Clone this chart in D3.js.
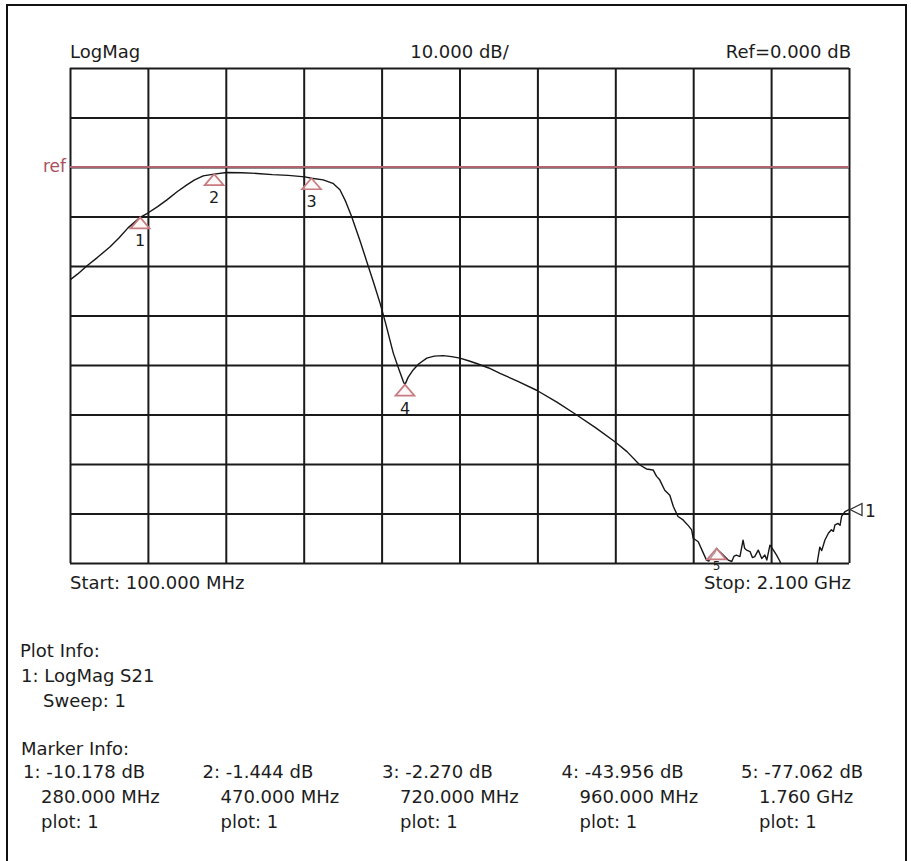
<!DOCTYPE html>
<html>
<head>
<meta charset="utf-8">
<script src="https://cdn.jsdelivr.net/npm/d3@7"></script>
<style>
  body { margin: 0; background: #fff; }
  svg { display: block; }
  text { font-family: "DejaVu Sans", Verdana, sans-serif; fill: #1c1c1c; }
</style>
</head>
<body>
<svg id="chart" width="911" height="861"></svg>
<script>
// sweep, MHz / dB
const freqMHz = [100, 120, 143, 170, 203, 225, 249, 280, 300, 325, 348, 375, 400, 420, 442, 470, 502, 540, 580, 620,
  660, 703, 720, 750, 775, 793, 808, 823, 845, 866, 880, 896, 910, 930, 945, 956, 960, 968, 981, 995,
  1016, 1035, 1058, 1080, 1101, 1125, 1144, 1175, 1204, 1250, 1298, 1350, 1401, 1450, 1499, 1530, 1563, 1580, 1597, 1606,
  1614, 1627, 1640, 1649, 1661, 1674, 1688, 1696, 1700, 1713, 1726, 1734, 1740, 1747, 1755, 1760, 1766, 1777, 1790, 1799,
  1805, 1811, 1820, 1828, 1832, 1837, 1846, 1852, 1858, 1867, 1876, 1884, 1889, 1897, 1906, 1914, 1923, 1930, 1960, 2000,
  2015, 2025, 2030, 2038, 2047, 2055, 2060, 2064, 2072, 2077, 2081, 2090, 2100];
const s21dB = [-22.8, -21.6, -20.0, -18.3, -16.1, -14.4, -12.3, -10.18, -9.3, -8.0, -6.7, -5.0, -3.6, -2.6, -1.8, -1.44, -1.1, -1.15, -1.3, -1.55,
  -1.7, -2.0, -2.27, -2.6, -3.3, -4.6, -7.0, -10.0, -15.0, -20.1, -23.5, -27.5, -31.5, -37.6, -41.0, -43.4, -43.96, -42.5, -41.0, -39.8,
  -38.6, -38.2, -38.1, -38.3, -38.6, -39.2, -39.7, -40.6, -41.7, -43.3, -45.1, -47.5, -50.1, -52.7, -55.5, -57.5, -60.2, -61.0, -61.2, -62.5,
  -63.2, -65.3, -66.3, -68.6, -70.6, -71.3, -72.5, -73.3, -75.0, -75.7, -78.0, -79.4, -79.6, -78.7, -78.0, -77.06, -77.6, -78.4, -79.4, -79.7,
  -78.6, -78.4, -78.7, -75.4, -77.0, -77.4, -77.7, -78.9, -78.7, -77.4, -79.1, -78.4, -79.4, -76.4, -77.4, -78.4, -79.7, -82.0, -84.0, -83.0,
  -81.5, -76.8, -77.5, -75.4, -74.0, -73.3, -73.6, -72.3, -72.0, -72.4, -70.6, -69.6, -69.2];

const markerIds = [1, 2, 3, 4, 5];
const markerMHz = [280, 470, 720, 960, 1760];
const markerdB = [-10.178, -1.444, -2.270, -43.956, -77.062];
const markerFreqLabels = ['280.000 MHz', '470.000 MHz', '720.000 MHz', '960.000 MHz', '1.760 GHz'];

const xTicks = d3.range(100, 2101, 200);
const yTicks = d3.range(20, -81, -10);
const refdB = 0;

const svg = d3.select('#chart');
const plotLeft = 70, plotTop = 68, plotW = 779, plotH = 495;

const x = d3.scaleLinear().domain([100, 2100]).range([plotLeft, plotLeft + plotW]);
const y = d3.scaleLinear().domain([20, -80]).range([plotTop, plotTop + plotH]);

// outer frame (runs off the bottom of the picture)
svg.append('path')
  .attr('d', 'M7,870 L7,5 L906,5 L906,870')
  .attr('fill', 'none').attr('stroke', '#111').attr('stroke-width', 2);

// grid
const gridX = svg.append('g')
  .attr('transform', `translate(0,${plotTop + plotH})`)
  .call(d3.axisBottom(x).tickValues(xTicks).tickSize(-plotH).tickFormat(''));
const gridY = svg.append('g')
  .attr('transform', `translate(${plotLeft},0)`)
  .call(d3.axisLeft(y).tickValues(yTicks).tickSize(-plotW).tickFormat(''));
[gridX, gridY].forEach(g => {
  g.select('.domain').remove();
  g.selectAll('line').attr('stroke', '#1a1a1a').attr('stroke-width', 2);
});

// ref line
svg.append('line')
  .attr('x1', plotLeft).attr('x2', plotLeft + plotW)
  .attr('y1', y(refdB)).attr('y2', y(refdB))
  .attr('stroke', '#b06470').attr('stroke-width', 1.8);
svg.append('text')
  .attr('x', 66).attr('y', y(refdB) + 5)
  .attr('text-anchor', 'end')
  .style('fill', '#a8505c')
  .style('font-size', '17px')
  .text('ref');

// trace
svg.append('clipPath').attr('id', 'plotClip')
  .append('rect').attr('x', plotLeft).attr('y', plotTop - 1).attr('width', plotW).attr('height', plotH + 1);

const line = d3.line().x(d => x(d[0])).y(d => y(d[1]));
svg.append('path')
  .datum(d3.zip(freqMHz, s21dB))
  .attr('clip-path', 'url(#plotClip)')
  .attr('d', line)
  .attr('fill', 'none')
  .attr('stroke', '#161616')
  .attr('stroke-width', 1.4)
  .attr('stroke-linejoin', 'round');

// markers
const markers = svg.append('g').selectAll('g')
  .data(markerIds.map((id, i) => ({ id, f: markerMHz[i], v: markerdB[i] })))
  .join('g')
  .attr('transform', d => `translate(${x(d.f)},${y(d.v)})`);
markers.append('path')
  .attr('d', 'M0,0 L9.5,11 L-9.5,11 Z')
  .attr('fill', '#fff4f4')
  .attr('fill-opacity', 0.6)
  .attr('stroke', '#c77a80')
  .attr('stroke-width', 1.7);
markers.append('text')
  .attr('y', d => d.id === 5 ? 22 : 29)
  .attr('text-anchor', 'middle')
  .style('font-size', d => d.id === 5 ? '12px' : '16px')
  .text(d => d.id);

// trace 1 end pointer
const last = s21dB[s21dB.length - 1];
const endG = svg.append('g').attr('transform', `translate(${plotLeft + plotW + 1},${y(last)})`);
endG.append('path')
  .attr('d', 'M0,0 L12,-6 L12,6 Z')
  .attr('fill', '#fff').attr('stroke', '#333').attr('stroke-width', 1.3);
endG.append('text').attr('x', 15).attr('y', 7).style('font-size', '17px').text('1');

// header / footer labels
const lab = (tx, ty, s, anchor) => svg.append('text')
  .attr('x', tx).attr('y', ty)
  .attr('text-anchor', anchor || 'start')
  .style('font-size', '18px')
  .text(s);

lab(plotLeft, 58, 'LogMag');
lab(plotLeft + plotW / 2, 58, '10.000 dB/', 'middle');
lab(plotLeft + plotW + 2, 58, 'Ref=0.000 dB', 'end');
lab(plotLeft, 589, 'Start: 100.000 MHz');
lab(plotLeft + plotW + 2, 589, 'Stop: 2.100 GHz', 'end');

lab(20, 657, 'Plot Info:');
lab(21, 682, '1: LogMag S21');
lab(43, 707, 'Sweep: 1');

lab(21, 755, 'Marker Info:');
markerIds.forEach((id, i) => {
  const cx = 23 + i * 179.5;
  lab(cx, 778, `${id}: ${markerdB[i].toFixed(3)} dB`);
  lab(cx + 18, 803, markerFreqLabels[i]);
  lab(cx + 18, 828, 'plot: 1');
});
</script>
</body>
</html>
